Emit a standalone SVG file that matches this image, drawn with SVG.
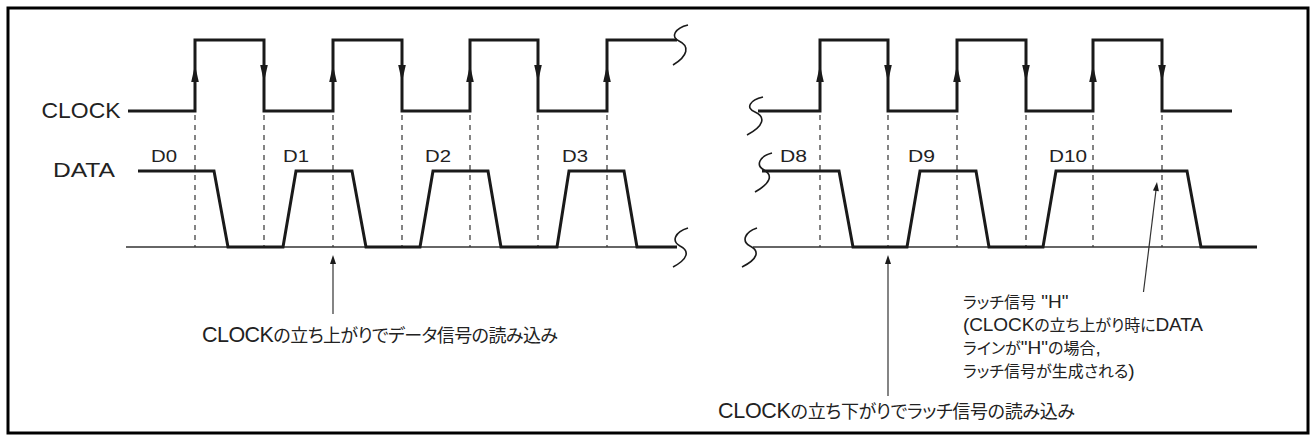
<svg xmlns="http://www.w3.org/2000/svg" xmlns:xlink="http://www.w3.org/1999/xlink" width="1316" height="441" viewBox="0 0 1316 441">
<style>
.frame{fill:#fff;stroke:#000;stroke-width:3}
.wave{fill:none;stroke:#1a1a1a;stroke-width:3;stroke-linejoin:miter}
.base{fill:none;stroke:#333;stroke-width:1.5}
.dash{fill:none;stroke:#333;stroke-width:1.2;stroke-dasharray:5 5}
.sq{fill:none;stroke:#1a1a1a;stroke-width:1.6}
.lead{fill:none;stroke:#333;stroke-width:1.2}
.ah{fill:#1a1a1a}
.lbl{font-family:"Liberation Sans","Noto Sans CJK JP",sans-serif;fill:#222}
.jp{font-family:"Liberation Sans","Noto Sans CJK JP",sans-serif;font-size:18px;fill:#222;font-feature-settings:"palt"}
.jp .lat{font-size:21.5px}
.nt{font-family:"Liberation Sans","Noto Sans CJK JP",sans-serif;font-size:16px;fill:#222;font-feature-settings:"palt"}
.nt .lat{font-size:19px}
</style>
<defs>
<path id="up" class="ah" d="M0,65 L-3.8,82 L3.8,82 Z"/>
<path id="dn" class="ah" d="M0,82 L-3.8,65 L3.8,65 Z"/>
<path id="tip" class="ah" d="M0,0 L-3,9 L3,9 Z"/>
</defs>
<rect class="frame" x="8" y="8" width="1300" height="425"/>

<g id="connectors">
<g id="dashes">
<path class="dash" d="M195,115V247M264,115V247M333,115V247M402,115V247M470,115V247M538,115V247M607,115V247"/>
<path class="dash" d="M820,115V247M888,115V247M957,115V247M1026,115V247M1093,115V247M1162,115V247"/>
</g>
<path class="lead" d="M333,262V314"/>
<use href="#tip" x="333" y="255"/>
<path class="lead" d="M888,262V396"/>
<use href="#tip" x="888" y="255"/>
<path class="lead" d="M1143.5,292L1156,190"/>
<use href="#tip" transform="translate(1157,182) rotate(7)"/>
</g>

<g id="clock-left">
<path class="wave" d="M128,111H195V40H264V111H333V40H402V111H470V40H538V111H607V40H677"/>
<path class="sq" d="M688,25C675,28 670,37 679,41C690,46 688,56 673,65"/>
<use href="#up" x="195"/><use href="#dn" x="264"/><use href="#up" x="333"/><use href="#dn" x="402"/>
<use href="#up" x="470"/><use href="#dn" x="538"/><use href="#up" x="607"/>
</g>

<g id="clock-right">
<path class="wave" d="M758,111H820V40H888V111H957V40H1026V111H1093V40H1162V111H1232"/>
<path class="sq" d="M763,97C750,100 745,108 755,112C766,117 764,126 747,135"/>
<use href="#up" x="820"/><use href="#dn" x="888"/><use href="#up" x="957"/><use href="#dn" x="1026"/>
<use href="#up" x="1093"/><use href="#dn" x="1162"/>
</g>

<g id="data-left">
<path class="base" d="M126,247H677"/>
<path class="wave" d="M138,171H214L228,247H283L296,171H352L366,247H420L433,171H488L501,247H557L569,171H624L637,247H677"/>
<path class="sq" d="M688,228C675,232 671,241 680,246C690,251 688,259 673,267"/>
</g>

<g id="data-right">
<path class="base" d="M753,247H1257"/>
<path class="wave" d="M762,171H839L853,247H907L920,171H976L989,247H1043L1056,171H1187L1201,247H1257"/>
<path class="sq" d="M772,153C760,156 755,165 764,170C773,175 771,183 755,192"/>
<path class="sq" d="M757,228C745,232 741,241 750,246C760,251 758,259 742,267"/>
</g>

<g id="labels">
<text class="lbl" x="41.5" y="117.5" font-size="21.5" textLength="79" lengthAdjust="spacingAndGlyphs">CLOCK</text>
<text class="lbl" x="53" y="177" font-size="21" textLength="62" lengthAdjust="spacingAndGlyphs">DATA</text>
<text class="lbl" x="151" y="162" font-size="17" textLength="26" lengthAdjust="spacingAndGlyphs">D0</text>
<text class="lbl" x="283" y="162" font-size="17" textLength="26" lengthAdjust="spacingAndGlyphs">D1</text>
<text class="lbl" x="425" y="162" font-size="17" textLength="26" lengthAdjust="spacingAndGlyphs">D2</text>
<text class="lbl" x="562" y="162" font-size="17" textLength="26" lengthAdjust="spacingAndGlyphs">D3</text>
<text class="lbl" x="780" y="162" font-size="17" textLength="27" lengthAdjust="spacingAndGlyphs">D8</text>
<text class="lbl" x="908" y="162" font-size="17" textLength="27" lengthAdjust="spacingAndGlyphs">D9</text>
<text class="lbl" x="1049" y="162" font-size="17" textLength="38" lengthAdjust="spacingAndGlyphs">D10</text>
</g>

<g id="note-rising">
<text class="jp" x="202" y="342" textLength="356"><tspan class="lat">CLOCK</tspan>の立ち上がりでデータ信号の読み込み</text>
</g>
<g id="note-falling">
<text class="jp" x="718" y="418" textLength="357"><tspan class="lat">CLOCK</tspan>の立ち下がりでラッチ信号の読み込み</text>
</g>
<g id="note-latch">
<text class="nt" x="963" y="308">ラッチ信号<tspan class="lat"> "H"</tspan></text>
<text class="nt" x="963" y="331" textLength="240"><tspan class="lat">(CLOCK</tspan>の立ち上がり時に<tspan class="lat">DATA</tspan></text>
<text class="nt" x="963" y="354">ラインが<tspan class="lat">"H"</tspan>の場合<tspan class="lat">,</tspan></text>
<text class="nt" x="963" y="377">ラッチ信号が生成される<tspan class="lat">)</tspan></text>
</g>
</svg>
